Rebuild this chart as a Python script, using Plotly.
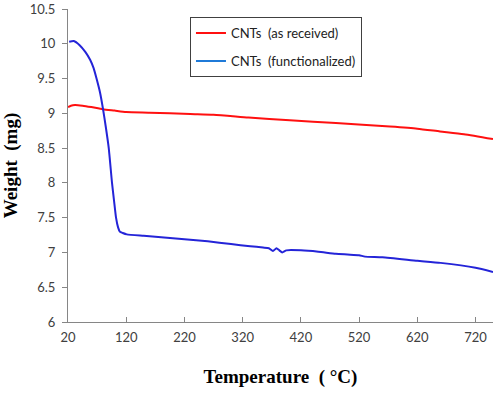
import plotly.graph_objects as go

# Data
temp_red = [20, 25, 32, 45, 60, 80, 100, 120, 160, 230, 270, 330, 401, 480, 573, 620, 659, 700, 750]
weight_red = [9.09, 9.11, 9.12, 9.11, 9.09, 9.06, 9.04, 9.02, 9.01, 8.99, 8.98, 8.94, 8.90, 8.86, 8.81, 8.78, 8.74, 8.70, 8.63]

temp_blue = [22, 30, 40, 50, 58, 64, 69, 75, 80, 85, 90, 95.6, 99, 102.5, 106, 109, 114, 121,
             150, 180, 220, 260, 300, 333, 355, 365, 372, 378, 383, 388, 395, 420, 450, 480,
             500, 520, 530, 560, 620, 660, 720, 750]
weight_blue = [10.03, 10.04, 9.98, 9.88, 9.77, 9.65, 9.5, 9.3, 9.07, 8.8, 8.5, 8.0, 7.75, 7.5, 7.36, 7.3, 7.28, 7.26,
               7.24, 7.22, 7.19, 7.16, 7.12, 7.09, 7.07, 7.06, 7.02, 7.06, 7.03, 7.0, 7.03, 7.03, 7.01, 6.98,
               6.97, 6.96, 6.94, 6.93, 6.88, 6.85, 6.78, 6.72]

x_ticks = [20, 120, 220, 320, 420, 520, 620, 720]
y_ticks = [6, 6.5, 7, 7.5, 8, 8.5, 9, 9.5, 10, 10.5]
y_labels = ["6", "6.5", "7", "7.5", "8", "8.5", "9", "9.5", "10", "10.5"]

names = ["CNTs\u00a0\u00a0(as received)", "CNTs\u00a0\u00a0(functionalized)"]

fig = go.Figure()
fig.add_trace(go.Scatter(x=temp_red, y=weight_red, mode="lines", line=dict(color="#ff1010", width=2),
                         line_shape="spline", line_smoothing=0.6, showlegend=False))
fig.add_trace(go.Scatter(x=temp_blue, y=weight_blue, mode="lines", line=dict(color="#2424d8", width=2),
                         line_shape="spline", line_smoothing=0.5, showlegend=False))
# legend entries
fig.add_trace(go.Scatter(x=[None], y=[None], mode="lines", line=dict(color="#ff1010", width=2),
                         name=names[0], legendgroup="a"))
fig.add_trace(go.Scatter(x=[None], y=[None], mode="lines", line=dict(color="#1f7ad8", width=2),
                         name=names[1], legendgroup="b"))

axis_col = "#868686"
tick_font = dict(family="Lato, sans-serif", size=13, color="#404040")
fig.update_layout(
    width=500, height=393,
    margin=dict(l=68, r=7, t=9, b=71),
    plot_bgcolor="white", paper_bgcolor="white",
    font=dict(family="Lato, sans-serif", size=13, color="#404040"),
    xaxis=dict(range=[20, 750], tickvals=x_ticks, ticks="inside", ticklen=5, tickcolor=axis_col,
               showline=True, linecolor=axis_col, linewidth=1, showgrid=False, zeroline=False,
               automargin=False, tickfont=tick_font, ticklabelstandoff=3,
               title=dict(text="<b>Temperature\u00a0\u00a0(\u00a0°C)</b>", standoff=26,
                          font=dict(family="Liberation Serif, serif", size=19, color="black"))),
    yaxis=dict(range=[6, 10.5], tickvals=y_ticks, ticktext=y_labels, ticks="outside", ticklen=5,
               tickcolor=axis_col, showline=True, linecolor=axis_col, linewidth=1, showgrid=False,
               zeroline=False, automargin=False, tickfont=tick_font, ticklabelstandoff=4,
               title=dict(text="<b>Weight\u00a0\u00a0(mg)</b>", standoff=13,
                          font=dict(family="Liberation Serif, serif", size=19, color="black"))),
    legend=dict(x=0.287, y=0.974, xanchor="left", yanchor="top", bordercolor="#404040", borderwidth=1,
                bgcolor="white", font=dict(family="Lato, sans-serif", size=13, color="#222222"),
                tracegroupgap=8, itemwidth=30),
)
fig.write_html("out.html", config={"displayModeBar": False},
               post_script="document.body.style.margin='0';document.body.style.overflow='hidden';")
